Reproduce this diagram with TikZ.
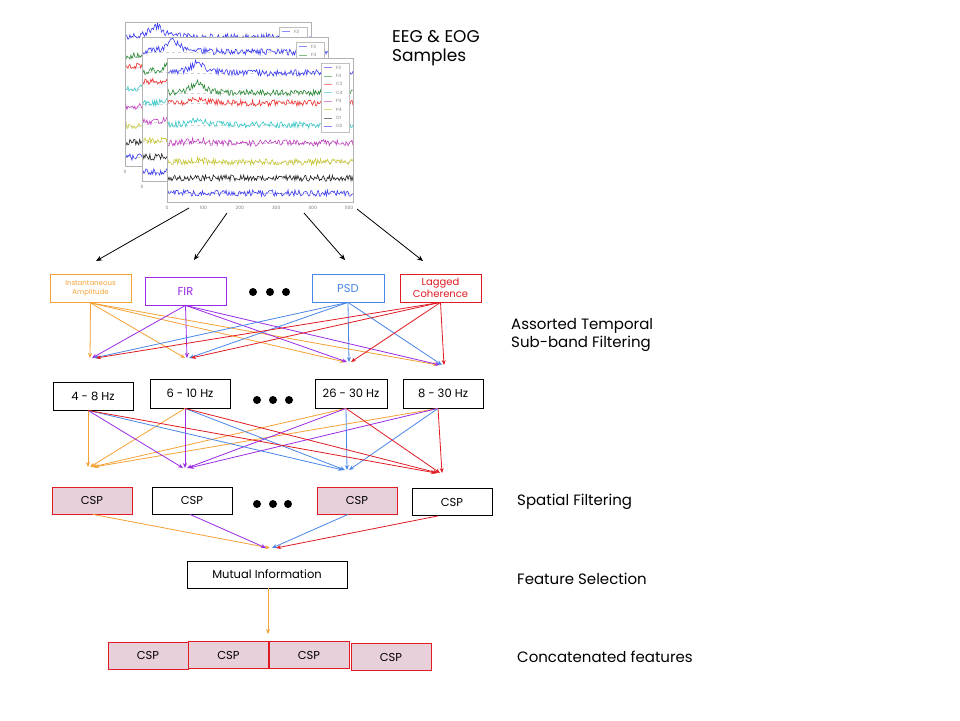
\documentclass[tikz,border=0pt]{standalone}
\usepackage{fontspec}
\setmainfont{Poppins}
\usetikzlibrary{arrows.meta,calc,positioning}

\definecolor{ccorange}{HTML}{F5A236}
\definecolor{ccpurple}{HTML}{9A2BE6}
\definecolor{ccblue}{HTML}{4A86E8}
\definecolor{ccred}{HTML}{E01B24}
\definecolor{csppink}{HTML}{E8D0DA}
\definecolor{eegblue}{HTML}{3C3CF0}
\definecolor{eeggreen}{HTML}{2E8B3A}
\definecolor{eegred}{HTML}{F03434}
\definecolor{eegcyan}{HTML}{34C8C8}
\definecolor{eegmag}{HTML}{C040C0}
\definecolor{eegyel}{HTML}{C8C834}
\definecolor{eegblack}{HTML}{202020}

\tikzset{
  box/.style={draw, line width=0.8pt, inner sep=0pt, minimum height=28pt, minimum width=80pt,
    font=\fontsize{11.5}{12.5}\selectfont, align=center},
  cspbox/.style={box, draw=ccred, fill=csppink, minimum height=27pt},
  link/.style={line width=0.8pt, -{Stealth[length=5pt,width=4pt]}},
  biglink/.style={line width=0.8pt, black, -{Stealth[length=6pt,width=5pt]}},
  dot/.style={circle, fill=black, inner sep=0pt, minimum size=8pt},
  stage/.style={anchor=west, align=left, inner sep=0pt, font=\fontsize{15}{18}\selectfont},
  tick/.style={inner sep=0pt, text=gray, font=\fontsize{4.5}{5}\selectfont},
}

\begin{document}
\begin{tikzpicture}[x=1pt, y=-1pt]
  \useasboundingbox (0,0) rectangle (960,720);
  \fill[white] (0,0) rectangle (960,720);
  \pgfmathsetseed{7}

  %% EEG sample panels, back to front
  \foreach \px/\py/\k in {125/22/1, 142/37/2, 167/58/3} {
    \fill[white] (\px,\py) rectangle ++(186,144);
    \begin{scope}
      \clip (\px,\py) rectangle ++(186,144);
      \foreach \o/\c/\b in {15/eegblue/11, 35/eeggreen/10, 45/eegred/4, 67/eegcyan/6,
                            85/eegmag/3, 104/eegyel/2, 120/eegblack/0, 135/eegblue/0} {
        \draw[gray!35, dashed, line width=0.4pt] (\px,\py+\o) -- ++(186,0);
        \draw[\c, line width=0.6pt] plot[domain=0:186, samples=190]
          ({\px+\x}, {\py+\o+3.2*rand-\b/(1+((\x-31)/8)^2)});
      }
    \end{scope}
    \draw[gray!60, line width=0.8pt] (\px,\py) rectangle ++(186,144);
    \node[draw=gray!50, fill=white, line width=0.5pt, inner sep=0pt, minimum width=28pt,
      minimum height=69pt, anchor=north west] (leg_\k) at (\px+154,\py+5) {};
    \foreach \n/\c [count=\i] in {F3/eegblue, F4/eeggreen, C3/eegred, C4/eegcyan,
                                  P3/eegmag, P4/eegyel, O1/eegblack, O2/eegblue} {
      \draw[\c!60, line width=0.6pt] (\px+157,\py+1+8.4*\i) -- ++(8,0);
      \node[tick, anchor=west] (leg_\k_\i) at (\px+169,\py+1+8.4*\i) {\n};
    }
    \foreach \v [count=\j] in {0,100,200,300,400,500} {
      \node[tick] (tick_\k_\j) at (\px+36.4*\j-36.4, \py+149.5) {\v};
    }
  }

  %% plot to methods
  \coordinate (out_1) at (189,208);
  \coordinate (out_2) at (227,213);
  \coordinate (out_3) at (304,213);
  \coordinate (out_4) at (357,209);
  \coordinate (in_1) at (96,261);
  \coordinate (in_2) at (194,260);
  \coordinate (in_3) at (345,260);
  \coordinate (in_4) at (423,261);
  \foreach \a in {1,...,4} {
    \draw[biglink] (out_\a) -- (in_\a);
  }

  %% first line: temporal methods
  \node [box, draw=ccorange, text=ccorange, minimum width=81pt, font=\fontsize{7}{8.5}\selectfont]
    (meth_li1_1) at (90.5,288.5) {Instantaneous\\Amplitude};
  \node [box, draw=ccpurple, text=ccpurple, minimum width=81pt] (meth_li1_2) at (185.5,291) {FIR};
  \node [box, draw=ccblue, text=ccblue, minimum width=72pt] (meth_li1_3) at (348,288) {PSD};
  \node [box, draw=ccred, text=ccred, minimum width=81pt, font=\fontsize{10}{11.5}\selectfont]
    (meth_li1_4) at (440.5,288) {Lagged\\Coherence};
  \foreach \a/\x in {1/253,2/270,3/286} {
    \node [dot] (dots_li1_\a) at (\x,292) {};
  }

  \coordinate (tgt_li1_1) at (93,358);
  \coordinate (tgt_li1_2) at (188,358);
  \coordinate (tgt_li1_3) at (348,362);
  \coordinate (tgt_li1_4) at (441,365);
  \foreach \s/\c in {1/ccorange,2/ccpurple,3/ccblue,4/ccred} {
    \foreach \t in {1,...,4} {
      \draw[link,\c] (meth_li1_\s.south) -- ($(tgt_li1_\t)+(\s*2-5,0)$);
    }
  }

  %% second line: sub-bands
  \node [box] (band_li2_1) at (93,396) {4 - 8 Hz};
  \node [box, minimum height=29pt] (band_li2_2) at (190,393.5) {6 - 10 Hz};
  \node [box, minimum height=29pt, minimum width=72pt] (band_li2_3) at (351,393.5) {26 - 30 Hz};
  \node [box, minimum height=29pt] (band_li2_4) at (443,393.5) {8 - 30 Hz};
  \foreach \a/\x in {1/257,2/273,3/289} {
    \node [dot] (dots_li2_\a) at (\x,400) {};
  }

  \coordinate (tgt_li2_1) at (91,467);
  \coordinate (tgt_li2_2) at (186,468);
  \coordinate (tgt_li2_3) at (346,470);
  \coordinate (tgt_li2_4) at (439,473);
  \foreach \t/\c in {1/ccorange,2/ccpurple,3/ccblue,4/ccred} {
    \foreach \s in {1,...,4} {
      \draw[link,\c] ($(band_li2_\s.south)+(-5,0)$) -- ($(tgt_li2_\t)+(\s*2-5,0)$);
    }
  }

  %% third line: spatial filters
  \node [cspbox] (csp_li3_1) at (92,500.5) {CSP};
  \node [box, minimum height=27pt] (csp_li3_2) at (192,500.5) {CSP};
  \node [cspbox] (csp_li3_3) at (357,500.5) {CSP};
  \node [box, minimum height=27pt] (csp_li3_4) at (452,502) {CSP};
  \foreach \a/\x in {1/257,2/273,3/288} {
    \node [dot] (dots_li3_\a) at (\x,504) {};
  }

  \node [box, minimum width=160pt, minimum height=27pt] (mi) at (267,574.5) {Mutual Information};
  \coordinate (mi_in) at (267,548);
  \foreach \s/\c/\d/\e in {1/ccorange/1/3, 2/ccpurple/-2/-1, 3/ccblue/-9/5, 4/ccred/-14/9} {
    \draw[link,\c] ($(csp_li3_\s.south)+(\d,0)$) -- ($(mi_in)+(\e,0)$);
  }

  %% concatenated features
  \node [cspbox] (feat_1) at (148,655.5) {CSP};
  \node [cspbox] (feat_2) at (228.5,655) {CSP};
  \node [cspbox] (feat_3) at (309,655) {CSP};
  \node [cspbox] (feat_4) at (391,657) {CSP};
  \coordinate (feat_in) at (268,634);
  \draw[link,ccorange] (mi.south -| feat_in) -- (feat_in);

  %% stage labels
  \node [stage, anchor=north west, font=\fontsize{17}{19}\selectfont] (lbl_eeg) at (392,30) {EEG \& EOG\\Samples};
  \node [stage, anchor=north west] (lbl_tmp) at (511,318) {Assorted Temporal\\Sub-band Filtering};
  \node [stage] (lbl_spf) at (517,502) {Spatial Filtering};
  \node [stage] (lbl_fs) at (517,579) {Feature Selection};
  \node [stage] (lbl_cf) at (517,657) {Concatenated features};
\end{tikzpicture}
\end{document}
